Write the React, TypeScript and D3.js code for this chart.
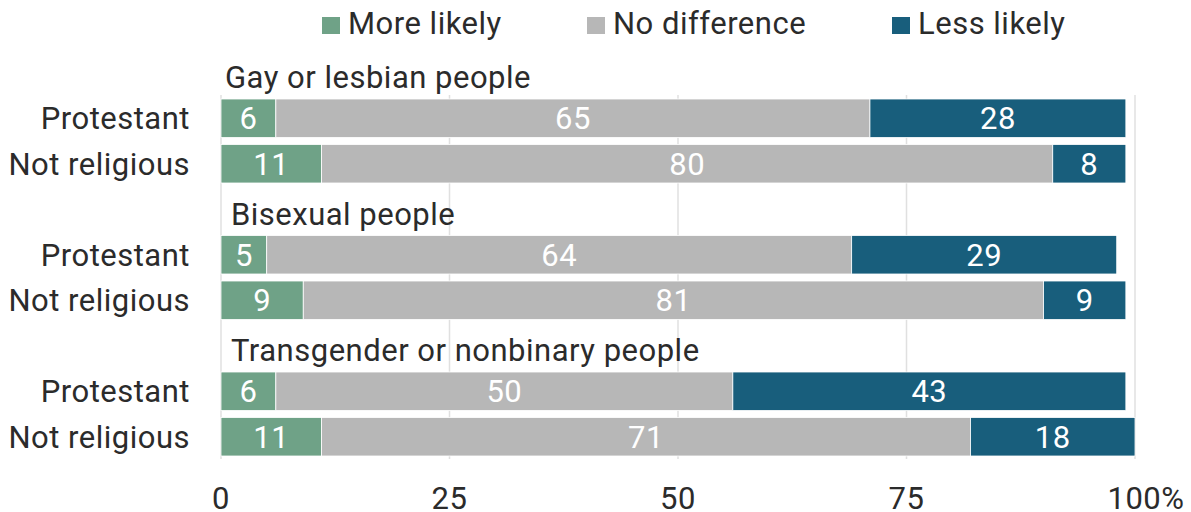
import React from "react";
import * as d3 from "d3";

const groups = ["Gay or lesbian people", "Bisexual people", "Transgender or nonbinary people"];
const rows = ["Protestant", "Not religious"];
const seriesNames = ["More likely", "No difference", "Less likely"];
// values[group][row]
const moreLikely = [
  [6, 11],
  [5, 9],
  [6, 11],
];
const noDifference = [
  [65, 80],
  [64, 81],
  [50, 71],
];
const lessLikely = [
  [28, 8],
  [29, 9],
  [43, 18],
];
const xTicks = [0, 25, 50, 75, 100];

const COLORS = ["#6fa287", "#b7b7b7", "#185e7c"];
const TEXT = "#2b2b2b";
const FONT = "Roboto, 'Noto Sans', sans-serif";
const FS = 31;
const LS = 0.5;
const titleDx = [4, 10, 10];
const legendX = [322, 587, 892];

export default function App() {
  const W = 1191;
  const H = 512;
  const x = d3.scaleLinear().domain([0, 100]).range([221, 1135]);
  const gy = d3.scaleLinear().domain([0, 1]).range([99, 235.5]);
  const ry = d3.scaleBand().domain(rows).range([0, 84]).paddingInner(0.154).paddingOuter(0);
  const bw = ry.bandwidth();
  const series = [moreLikely, noDifference, lessLikely];
  const off = 11;

  return (
    <svg
      width={W}
      height={H}
      style={{ position: "absolute", left: 0, top: 0, background: "#fff" }}
      fontFamily={FONT}
      letterSpacing={LS}
    >
      {xTicks.map((t) => (
        <line key={t} x1={x(t)} x2={x(t)} y1={95} y2={459} stroke="#e0e0e0" strokeWidth={1.5} />
      ))}
      {seriesNames.map((s, i) => (
        <g key={s}>
          <rect x={legendX[i]} y={17} width={18} height={17} fill={COLORS[i]} />
          <text x={legendX[i] + 26} y={34} fontSize={FS} fill={TEXT}>
            {s}
          </text>
        </g>
      ))}
      {groups.map((g, gi) => {
        const top = gy(gi);
        return (
          <g key={g}>
            <text x={x(0) + titleDx[gi]} y={top - 11} fontSize={FS} fill={TEXT}>
              {g}
            </text>
            {rows.map((r, ri) => {
              const y0 = top + (ry(r) as number);
              const vals = series.map((s) => s[gi][ri]);
              let acc = 0;
              const segs = vals.map((v, si) => {
                const start = acc;
                acc += v;
                return { v, si, start, end: acc };
              });
              return (
                <g key={r}>
                  <text x={190} y={y0 + bw / 2 + off} fontSize={FS} fill={TEXT} textAnchor="end">
                    {r}
                  </text>
                  {segs.map((s) => (
                    <rect
                      key={s.si}
                      x={x(s.start)}
                      y={y0}
                      width={x(s.end) - x(s.start)}
                      height={bw}
                      fill={COLORS[s.si]}
                      stroke="#fff"
                      strokeWidth={0.8}
                    />
                  ))}
                  {segs.map((s) => (
                    <text
                      key={"t" + s.si}
                      x={(x(s.start) + x(s.end)) / 2}
                      y={y0 + bw / 2 + off}
                      fontSize={FS}
                      fill="#fff"
                      textAnchor="middle"
                    >
                      {s.v}
                    </text>
                  ))}
                </g>
              );
            })}
          </g>
        );
      })}
      {xTicks.map((t, i) => (
        <text
          key={"xl" + t}
          x={x(t)}
          dx={i === xTicks.length - 1 ? 11 : 0}
          y={509}
          fontSize={FS}
          fill={TEXT}
          textAnchor="middle"
        >
          {i === xTicks.length - 1 ? `${t}%` : t}
        </text>
      ))}
    </svg>
  );
}
